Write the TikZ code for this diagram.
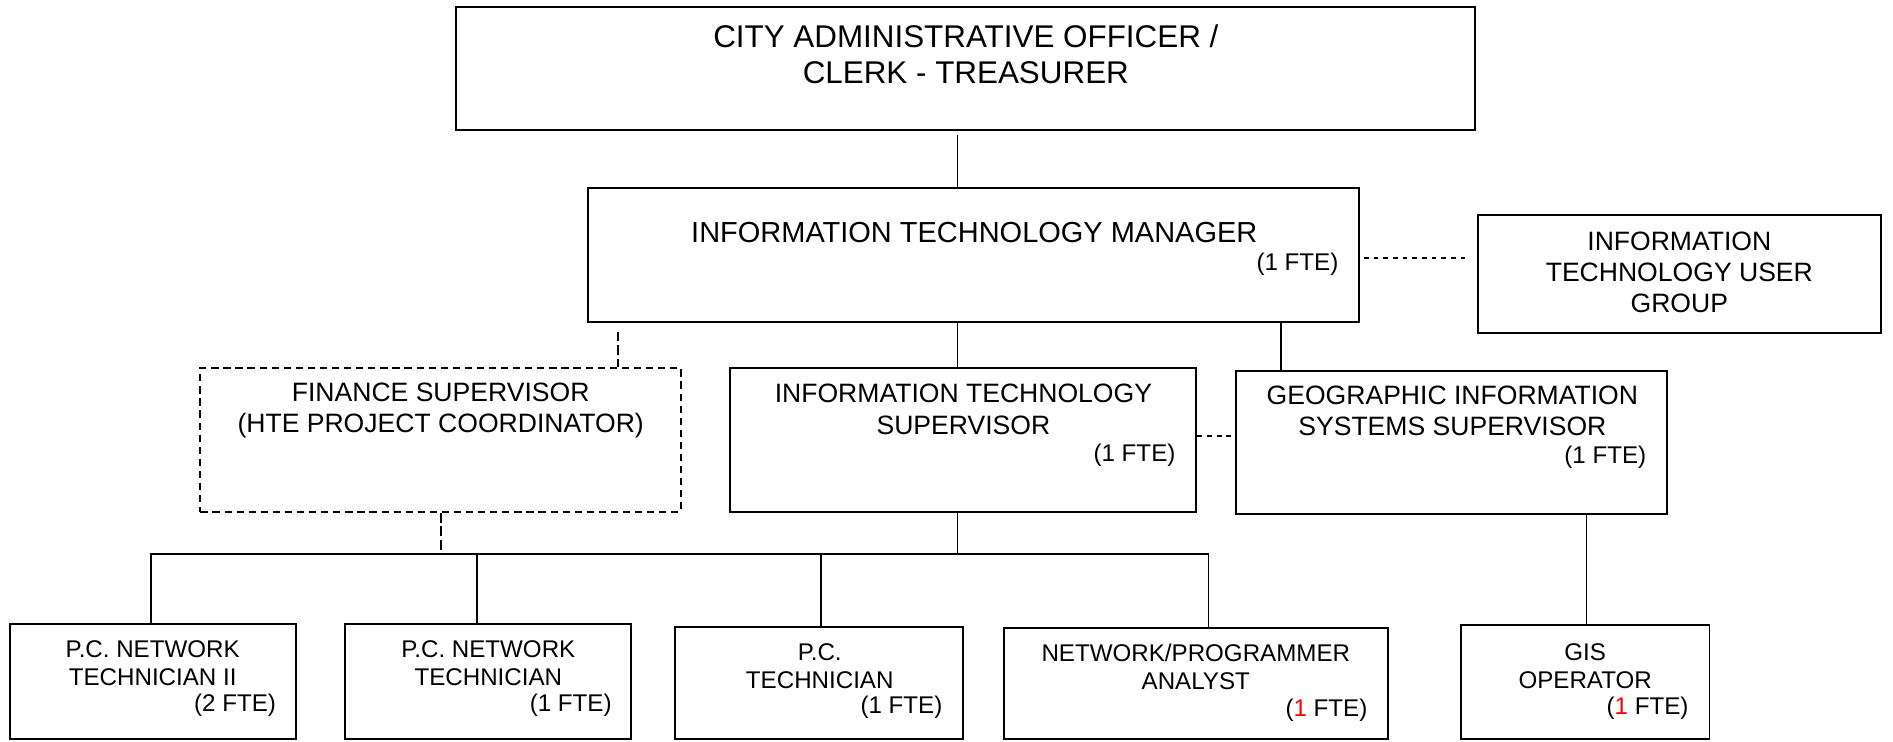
\documentclass[tikz,border=0pt]{standalone}
\usepackage{fontspec}
\setmainfont{Liberation Sans}
\usetikzlibrary{fit}
\begin{document}
\begin{tikzpicture}[x=0.5pt,y=-0.5pt,
  box/.style={draw, line width=0.8pt, inner sep=0pt},
  dbox/.style={draw, line width=0.8pt, inner sep=0pt, dash pattern=on 3pt off 2pt},
  conn/.style={line width=0.7pt},
  dconn/.style={line width=0.8pt, dash pattern=on 2pt off 2pt},
  ldconn/.style={line width=0.7pt, dash pattern=on 4pt off 1.6pt},
  txt/.style={inner sep=0pt, align=center},
  fte/.style={inner sep=0pt, anchor=east, font=\fontsize{10pt}{12pt}\selectfont},
  big/.style={font=\fontsize{13pt}{15pt}\selectfont},
  mid/.style={font=\fontsize{12pt}{14pt}\selectfont},
  med/.style={font=\fontsize{11pt}{13pt}\selectfont},
  sml/.style={font=\fontsize{10pt}{11.5pt}\selectfont}]
\useasboundingbox (0,0) rectangle (1568,614);

% boxes
\node[box, fit={(378,6) (1222,108)}] (cao) {};
\node[box, fit={(487,156) (1126,267)}] (itm) {};
\node[box, fit={(1224,178) (1558,276)}] (ug) {};
\node[dbox, fit={(166,305) (564,424)}] (fin) {};
\node[box, fit={(605,305) (991,424)}] (its) {};
\node[box, fit={(1024,307) (1381,426)}] (gis) {};
\node[box, fit={(8,517) (245,612)}] (pcnt2) {};
\node[box, fit={(286,517) (523,612)}] (pcnt) {};
\node[box, fit={(559,519) (798,612)}] (pct) {};
\node[box, fit={(832,520) (1150,612)}] (npa) {};
\node[box, fit={(1210,518) (1416,612)}] (gisop) {};

% texts
\node[txt, big] (caot) at (800,45) {CITY ADMINISTRATIVE OFFICER /\\CLERK - TREASURER};
\node[txt, mid] (itmt) at (807,193) {INFORMATION TECHNOLOGY MANAGER};
\node[fte] (itmf) at (1109,219) {(1 FTE)};
\node[txt, font=\fontsize{11pt}{12.75pt}\selectfont] (ugt) at (1391,225.5) {INFORMATION\\TECHNOLOGY USER\\GROUP};
\node[txt, med] (fint) at (365,340) {FINANCE SUPERVISOR\\(HTE PROJECT COORDINATOR)};
\node[txt, med] (itst) at (798,339) {INFORMATION TECHNOLOGY\\SUPERVISOR};
\node[fte] (itsf) at (974,377) {(1 FTE)};
\node[txt, med] (gist) at (1203,340.5) {GEOGRAPHIC INFORMATION\\SYSTEMS SUPERVISOR};
\node[fte] (gisf) at (1364,379) {(1 FTE)};
\node[txt, sml] (pcnt2t) at (126.5,549.5) {P.C. NETWORK\\TECHNICIAN II};
\node[fte] (pcnt2f) at (229,584) {(2 FTE)};
\node[txt, sml] (pcntt) at (404.5,549.5) {P.C. NETWORK\\TECHNICIAN};
\node[fte] (pcntf) at (507,584) {(1 FTE)};
\node[txt, sml] (pctt) at (679,551.5) {P.C.\\TECHNICIAN};
\node[fte] (pctf) at (781,586) {(1 FTE)};
\node[txt, sml] (npat) at (990.5,552.5) {NETWORK/PROGRAMMER\\ANALYST};
\node[fte] (npaf) at (1133,588) {(\textcolor{red}{1} FTE)};
\node[txt, sml] (gisopt) at (1313,552) {GIS\\OPERATOR};
\node[fte] (gisopf) at (1399,587) {(\textcolor{red}{1} FTE)};

% column / row coordinates
\coordinate (trunk) at (793,0);
\coordinate (gcol) at (1061,0);
\coordinate (fcol) at (512,0);
\coordinate (ocol) at (1314,0);
\coordinate (ugrow) at (0,214);
\coordinate (gsrow) at (0,361);
\coordinate (bus) at (0,459);
\coordinate (c1) at (125,0);
\coordinate (c2) at (395,0);
\coordinate (c3) at (680,0);
\coordinate (c4) at (1001,0);

% connectors
\draw[conn, shorten <=1.5pt] (trunk |- cao.south) -- (trunk |- itm.north);
\draw[conn] (trunk |- itm.south) -- (trunk |- its.north);
\draw[conn] (gcol |- itm.south) -- (gcol |- gis.north);
\draw[ldconn, shorten <=3.5pt] (fcol |- itm.south) -- (fcol |- fin.north);
\draw[dconn, shorten <=1.5pt, shorten >=4pt] (itm.east |- ugrow) -- (ug.west |- ugrow);
\draw[dconn] (its.east |- gsrow) -- (gis.west |- gsrow);
\draw[conn] (trunk |- its.south) -- (trunk |- bus);
\draw[conn] (c1 |- pcnt2.north) -- (c1 |- bus) -| (c4 |- npa.north);
\draw[conn] (c2 |- bus) -- (c2 |- pcnt.north);
\draw[conn] (c3 |- bus) -- (c3 |- pct.north);
\draw[ldconn] (fin.south) -- (fin.south |- bus);
\draw[conn] (ocol |- gis.south) -- (ocol |- gisop.north);
\end{tikzpicture}
\end{document}
